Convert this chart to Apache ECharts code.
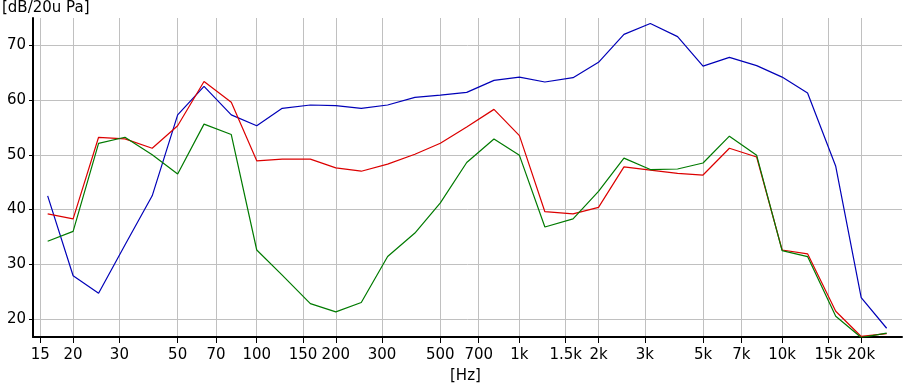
<!DOCTYPE html>
<html>
<head>
<meta charset="utf-8">
<script src="https://cdn.jsdelivr.net/npm/echarts@6/dist/echarts.min.js"></script>
<style>html,body{margin:0;padding:0;background:#fff;}#c{width:907px;height:390px;}</style>
</head>
<body>
<div id="c"></div>
<script>
var freqs = [16,20,25,31.5,40,50,63,80,100,125,160,200,250,315,400,500,630,800,1000,1250,1600,2000,2500,3150,4000,5000,6300,8000,10000,12500,16000,20000,25000];
var blueVals = [42.5,27.9,24.7,33.5,42.5,57.3,62.5,57.3,55.3,58.5,59.1,59.0,58.5,59.1,60.5,60.9,61.4,63.6,64.2,63.3,64.1,66.9,72.0,74.0,71.6,66.2,67.8,66.3,64.2,61.3,47.9,23.9,18.3];
var redVals = [39.2,38.3,53.2,52.9,51.2,55.3,63.4,59.6,48.9,49.2,49.2,47.6,47.0,48.3,50.1,52.1,55.1,58.3,53.5,39.6,39.2,40.4,47.8,47.2,46.6,46.3,51.2,49.6,32.6,31.9,21.4,16.8,17.3];
var greenVals = [34.2,36.0,52.1,53.2,50.0,46.5,55.6,53.7,32.6,28.0,22.8,21.3,23.0,31.4,35.7,41.2,48.6,52.9,49.9,36.8,38.3,43.3,49.4,47.3,47.4,48.5,53.4,49.9,32.5,31.4,20.5,16.6,17.4];
var xTickFreqs = [15,20,30,50,70,100,150,200,300,500,700,1000,1500,2000,3000,5000,7000,10000,15000,20000];
var xTickLabels = ['15','20','30','50','70','100','150','200','300','500','700','1k','1.5k','2k','3k','5k','7k','10k','15k','20k'];
var yTicks = [20,30,40,50,60,70];
var xMinFreq = 14.07, xMaxFreq = 28600;
var yMin = 16.7, yMax = 75;

var FONT = 'DejaVu Sans';
function pairs(vals){ return freqs.map(function(f,i){ return [Math.log10(f), vals[i]]; }); }
var xTickVals = xTickFreqs.map(function(f){ return Math.log10(f); });

var chart = echarts.init(document.getElementById('c'), null, {renderer:'canvas'});
chart.setOption({
  animation:false,
  backgroundColor:'#ffffff',
  grid:{left:33,right:5,top:18,bottom:53,containLabel:false},
  xAxis:{
    type:'value', min:Math.log10(xMinFreq), max:Math.log10(xMaxFreq),
    axisLine:{show:true,onZero:false,lineStyle:{color:'#000',width:2}},
    axisTick:{show:true,length:6,customValues:xTickVals,lineStyle:{color:'#000',width:1}},
    axisLabel:{customValues:xTickVals,color:'#000',fontFamily:FONT,fontSize:15,margin:11,
      formatter:function(v){ for(var i=0;i<xTickVals.length;i++){ if(Math.abs(xTickVals[i]-v)<1e-6) return xTickLabels[i]; } return ''; }},
    splitLine:{show:true,lineStyle:{color:'#c0c0c0',width:1}}
  },
  yAxis:{
    type:'value', min:yMin, max:yMax,
    axisLine:{show:true,onZero:false,lineStyle:{color:'#000',width:2}},
    axisTick:{show:true,length:4,customValues:yTicks,lineStyle:{color:'#000',width:1}},
    axisLabel:{customValues:yTicks,color:'#000',fontFamily:FONT,fontSize:15,margin:7},
    splitLine:{show:true,lineStyle:{color:'#c0c0c0',width:1}}
  },
  graphic:[
    {type:'text',left:2,top:1,style:{text:'[dB/20u Pa]',font:'15px "DejaVu Sans"',fill:'#000'}},
    {type:'text',left:450,top:369,style:{text:'[Hz]',font:'15px "DejaVu Sans"',fill:'#000'}}
  ],
  series:[
    {type:'line',data:pairs(blueVals),symbol:'none',lineStyle:{color:'#0000b8',width:1.2},z:2},
    {type:'line',data:pairs(redVals),symbol:'none',lineStyle:{color:'#dc0000',width:1.2},z:3},
    {type:'line',data:pairs(greenVals),symbol:'none',lineStyle:{color:'#007a00',width:1.2},z:4}
  ]
});
</script>
</body>
</html>
